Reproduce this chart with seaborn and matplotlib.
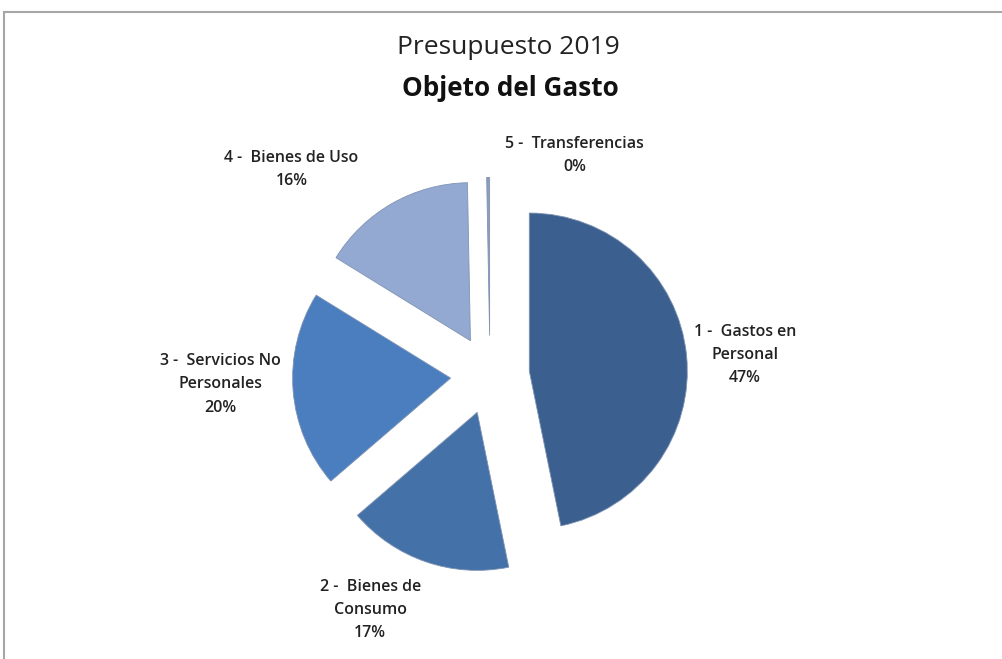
import numpy as np
import matplotlib
matplotlib.use("Agg")
import matplotlib.pyplot as plt
import matplotlib.patches as mpatches
import seaborn as sns

# Datos del gráfico
categorias = ["1 -  Gastos en\nPersonal", "2 -  Bienes de\nConsumo", "3 -  Servicios No\nPersonales",
              "4 -  Bienes de Uso", "5 -  Transferencias"]
valores = [46.8, 16.9, 20.1, 15.9, 0.3]
colores = ["#3B5F8E", "#4371A8", "#4A7EBF", "#94A9D2", "#8C9DB8"]

# posición de etiquetas (distancia relativa al radio, ángulo en grados)
pos_etiquetas = [(1.62, 4.5), (1.67, -117), (1.71, 182), (1.81, 134), (1.49, 69)]

sns.set_theme(style="white")
plt.rcParams['font.family'] = ['Open Sans', 'DejaVu Sans']

fig = plt.figure(figsize=(10.03, 6.59), dpi=100)
ax = fig.add_axes([0, 0, 1, 1])

ax.pie(valores, colors=colores, startangle=90, counterclock=False,
       explode=[0.25] * len(valores), radius=1.0,
       wedgeprops={'linewidth': 0.6, 'edgecolor': '#7F93B3'})

# coordenadas: centro del pie en (490, 375) px, radio 158 px
px = 158.0
ax.set_xlim(-490 / px, (1003 - 490) / px)
ax.set_ylim(-(659 - 375) / px, 375 / px)
ax.set_aspect('equal')
ax.axis('off')

total = sum(valores)
for cat, v, (d, ang) in zip(categorias, valores, pos_etiquetas):
    x = d * np.cos(np.radians(ang))
    y = d * np.sin(np.radians(ang))
    ax.text(x, y, f"{cat}\n{round(v / total * 100):.0f}%", ha='center', va='center',
            fontsize=11.5, fontweight='semibold', color='#222222', linespacing=1.6)

fig.text(0.507, 1 - 48 / 659, "Presupuesto 2019", ha='center', va='center',
         fontsize=19, color='#222222')
fig.text(0.509, 1 - 88 / 659, "Objeto del Gasto", ha='center', va='center',
         fontsize=18.8, fontweight='bold', color='#111111')

# marco gris
fig.patches.append(mpatches.Rectangle((4 / 1003, -0.05), 1.1, 1 - 12 / 659 + 0.05,
                                      transform=fig.transFigure, fill=False,
                                      edgecolor='#A6A6A6', linewidth=1.5))

fig.savefig("out.png", dpi=100, facecolor='white')
